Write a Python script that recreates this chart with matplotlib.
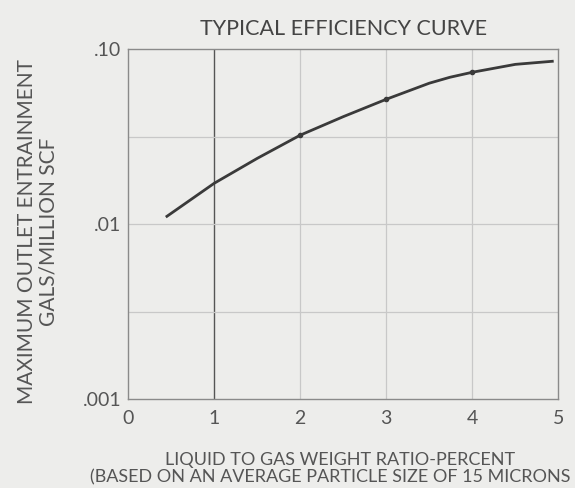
import numpy as np
import matplotlib.pyplot as plt

# curve
ratio = [0.45, 1.0, 1.5, 2.0, 2.5, 3.0, 3.5, 3.74, 4.0, 4.5, 4.93]
entrain = [0.0111, 0.01715, 0.0238, 0.0323, 0.0412, 0.0518, 0.064, 0.0692, 0.0739, 0.082, 0.0854]
# dots drawn on the curve
dot_x = [2.0, 3.0, 4.0]
dot_y = [0.0323, 0.0518, 0.0739]

xticks = [0, 1, 2, 3, 4, 5]
yticks = [0.001, 0.01, 0.1]
ytick_labels = ['.001', '.01', '.10']
xgrid = [1, 2, 3, 4]
ygrid = [0.00316, 0.01, 0.0316]

bg = '#ededeb'
txt = '#555555'
plt.rcParams['font.family'] = ['Lato', 'DejaVu Sans']

fig = plt.figure(figsize=(5.75, 4.88), dpi=100, facecolor=bg)
ax = fig.add_axes([0.223, 0.182, 0.748, 0.717])
ax.set_facecolor(bg)

ax.set_yscale('log')
ax.set_xlim(0, 5)
ax.set_ylim(0.001, 0.1)

for gx in xgrid:
    c = '#555555' if gx == 1 else '#c8c8c8'
    ax.axvline(gx, color=c, lw=1.0 if gx == 1 else 0.9, zorder=1)
for gy in ygrid:
    ax.axhline(gy, color='#c8c8c8', lw=0.9, zorder=1)

ax.plot(ratio, entrain, color='#3a3a3a', lw=2.0, zorder=3)
ax.plot(dot_x, dot_y, 'o', color='#3a3a3a', ms=3, zorder=4)

ax.set_xticks(xticks)
ax.set_xticklabels([str(t) for t in xticks], fontsize=14, color=txt)
ax.set_yticks(yticks)
ax.set_yticklabels(ytick_labels, fontsize=14, color=txt)
ax.yaxis.set_minor_locator(plt.NullLocator())
ax.tick_params(axis='x', length=0, pad=8)
ax.tick_params(axis='y', length=0, pad=5)

for s in ax.spines.values():
    s.set_color('#8a8a8a')
    s.set_linewidth(1.0)

fig.text(0.597, 0.94, 'TYPICAL EFFICIENCY CURVE', ha='center', va='center',
         fontsize=15.5, color='#444444')

fig.text(0.047, 0.525, 'MAXIMUM OUTLET ENTRAINMENT', rotation=90, ha='center', va='center',
         fontsize=15, color=txt)
fig.text(0.085, 0.525, 'GALS/MILLION SCF', rotation=90, ha='center', va='center',
         fontsize=15, color=txt)

fig.text(0.591, 0.057, 'LIQUID TO GAS WEIGHT RATIO-PERCENT', ha='center', va='center',
         fontsize=13, color=txt)
fig.text(0.574, 0.021, '(BASED ON AN AVERAGE PARTICLE SIZE OF 15 MICRONS', ha='center', va='center',
         fontsize=13, color=txt)

fig.savefig('out.png', dpi=100, facecolor=bg)
